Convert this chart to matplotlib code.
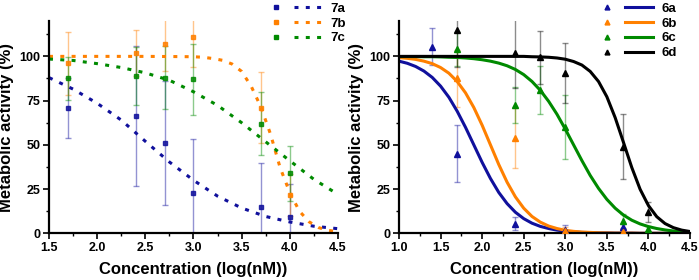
import matplotlib
matplotlib.use('Agg')
from matplotlib import pyplot as plt
from matplotlib.lines import Line2D
from matplotlib.legend_handler import HandlerTuple
from matplotlib.ticker import MultipleLocator

plt.rcParams['font.family'] = ['Liberation Sans', 'DejaVu Sans']
plt.rcParams['font.weight'] = 'bold'
plt.rcParams['axes.labelweight'] = 'bold'

# left panel: compounds 7a-7c (measured points)
x7 = [1.7, 2.4, 2.7, 3.0, 3.7, 4.0]
y7a = [71, 66.5, 51, 22.5, 15, 9]
e7a = [17, 39.5, 35, 31, 24.5, 19]
y7b = [96, 102, 107, 111, 71, 21.5]
e7b = [18, 13, 15, 17, 20, 12]
y7c = [87.5, 89, 88, 87, 62, 34]
e7c = [12, 16.5, 18, 20, 18, 15.5]

# left panel fitted curves
fit7_x = [1.5, 1.75, 2.0, 2.25, 2.5, 2.75, 3.0, 3.25, 3.5, 3.75, 4.0, 4.25, 4.5]
fit7a = [88, 81.5, 73.5, 64, 52, 40.3, 30, 21, 14.3, 9.5, 6.4, 4, 2.6]
fit7c = [98.5, 97.7, 95.9, 93.7, 90.7, 86.5, 80, 72.3, 62.5, 51.7, 41, 30.5, 22]
fit7b_x = [1.5, 2.0, 2.5, 2.8, 3.0, 3.1, 3.2, 3.3, 3.4, 3.5, 3.6, 3.7,
           3.8, 3.9, 4.0, 4.1, 4.2, 4.3, 4.4, 4.5]
fit7b = [100, 100, 100, 99.9, 99.8, 99.5, 98.8, 97.8, 95.7, 91.5, 83, 71.4,
         56, 37, 23, 12.5, 6.5, 3.2, 1.7, 0.8]

# right panel: compounds 6a-6d (measured points)
x6a = [1.4, 1.7, 2.4, 3.0, 3.7]
y6a = [105.5, 45, 5.5, 2, 3.5]
e6a = [10.5, 16, 3.7, 2.8, 2]
x6b = [1.7, 2.4, 3.0, 3.7]
y6b = [87.5, 54, 1.5, 1]
e6b = [16, 17, 2, 1.5]
x6c = [1.7, 2.4, 2.7, 3.0, 3.7, 4.0]
y6c = [104, 72.5, 81, 60, 7, 2.5]
e6c = [9.5, 10, 13.5, 18, 4, 1.5]
x6d = [1.7, 2.4, 2.7, 3.0, 3.7, 4.0]
y6d = [115, 102, 99.5, 90.5, 49, 12]
e6d = [21, 20, 15, 17, 18.5, 5.5]

# right panel fitted curves
fit6_x = [1.0, 1.1, 1.2, 1.3, 1.4, 1.5, 1.6, 1.7, 1.8, 1.9, 2.0, 2.1, 2.2,
          2.3, 2.4, 2.5, 2.6, 2.7, 2.8, 2.9, 3.0, 3.1, 3.2, 3.3, 3.4, 3.5,
          3.6, 3.7, 3.8, 3.9, 4.0, 4.1, 4.2, 4.3, 4.4, 4.5]
fit6a = [97.3, 96.1, 94.3, 91.7, 88.1, 83.2, 76.9, 69.0, 59.9, 50.0, 40.1,
         31.0, 23.1, 16.8, 11.9, 8.3, 5.7, 3.9, 2.7, 1.8, 1.2, 0.8, 0.5, 0.4,
         0.2, 0.2, 0.1, 0.1, 0.1, 0, 0, 0, 0, 0, 0, 0]
fit6b = [99.3, 98.9, 98.3, 97.3, 95.9, 93.7, 90.5, 85.8, 79.4, 71.1, 61.1,
         50.0, 38.9, 28.9, 20.6, 14.2, 9.5, 6.3, 4.1, 2.7, 1.7, 1.1, 0.7, 0.5,
         0.3, 0.2, 0.1, 0.1, 0.1, 0, 0, 0, 0, 0, 0, 0]
fit6c = [99.9, 99.9, 99.9, 99.8, 99.8, 99.7, 99.5, 99.4, 99.1, 98.7, 98.1,
         97.3, 96.2, 94.7, 92.6, 89.7, 85.8, 80.8, 74.6, 67.3, 58.9, 50.0,
         41.1, 32.7, 25.4, 19.2, 14.2, 10.3, 7.4, 5.3, 3.8, 2.7, 1.9, 1.3,
         0.9, 0.6]
fit6d = [100, 100, 100, 100, 100, 100, 100, 100, 100, 100, 100, 100, 100,
         100, 100, 100, 99.8, 99.7, 99.5, 99.1, 98.4, 97.1, 95.1, 91.5, 85.8,
         77.2, 65.4, 51.4, 37.2, 24.9, 15.7, 9.4, 5.5, 3.2, 1.8, 1.0]

blue = '#10109c'
orange = '#ff8000'
green = '#008a00'
black = '#000000'
dots = (0, (1.3, 2.4))

fig = plt.figure(figsize=(6.99, 2.8), dpi=100)
ax1 = fig.add_axes([0.0701, 0.1668, 0.4134, 0.7582])
ax2 = fig.add_axes([0.5708, 0.1668, 0.4163, 0.7582])


def style_axes(ax, xmin):
    ax.set_xlim(xmin, 4.5)
    ax.set_ylim(0, 120)
    ax.xaxis.set_major_locator(MultipleLocator(0.5))
    ax.xaxis.set_minor_locator(MultipleLocator(0.25))
    ax.yaxis.set_major_locator(MultipleLocator(25))
    ax.yaxis.set_minor_locator(MultipleLocator(12.5))
    ax.xaxis.set_major_formatter(plt.FormatStrFormatter('%.1f'))
    for s in ['top', 'right']:
        ax.spines[s].set_visible(False)
    for s in ['left', 'bottom']:
        ax.spines[s].set_linewidth(1.6)
    ax.tick_params(which='major', direction='out', length=4, width=1.2,
                   labelsize=9, pad=2)
    ax.tick_params(which='minor', direction='out', length=2.5, width=1.0)
    for lab in ax.get_xticklabels() + ax.get_yticklabels():
        lab.set_fontweight('bold')
    ax.set_xlabel('Concentration (log(nM))', fontsize=12, fontweight='bold',
                  labelpad=6)
    ax.set_ylabel('Metabolic activity (%)', fontsize=12, fontweight='bold',
                  labelpad=4)


def legend_handles(colors, marker, ls):
    hs = []
    for c in colors:
        hs.append((Line2D([], [], ls='none', marker=marker, color=c, ms=3.5),
                   Line2D([], [], ls=ls, color=c, lw=2.2)))
    return hs


def add_legend(ax, handles, labels, right):
    leg = ax.legend(handles, labels,
                    handler_map={tuple: HandlerTuple(ndivide=None, pad=0.3)},
                    handlelength=4.6, frameon=False,
                    prop={'size': 9.5, 'weight': 'bold'}, labelspacing=0.2,
                    loc='upper right', bbox_to_anchor=(right, 0.996),
                    bbox_transform=fig.transFigure, borderaxespad=0,
                    borderpad=0.1, handletextpad=0.6)
    return leg


# left panel
for y, e, c in [(y7a, e7a, blue), (y7b, e7b, orange), (y7c, e7c, green)]:
    ax1.errorbar(x7, y, yerr=e, fmt='none', ecolor=c, alpha=0.45,
                 elinewidth=1, capsize=2.5, capthick=1, zorder=1)
ax1.plot(fit7_x, fit7a, ls=dots, color=blue, lw=2.2, zorder=2)
ax1.plot(fit7b_x, fit7b, ls=dots, color=orange, lw=2.2, zorder=2)
ax1.plot(fit7_x, fit7c, ls=dots, color=green, lw=2.2, zorder=2)
for y, c in [(y7a, blue), (y7b, orange), (y7c, green)]:
    ax1.plot(x7, y, 's', color=c, ms=3.5, alpha=0.85, zorder=3)
style_axes(ax1, 1.5)
add_legend(ax1, legend_handles([blue, orange, green], 's', dots),
           ['7a', '7b', '7c'], 0.497)

# right panel
for x, y, e, c in [(x6a, y6a, e6a, blue), (x6b, y6b, e6b, orange),
                   (x6c, y6c, e6c, green), (x6d, y6d, e6d, black)]:
    ax2.errorbar(x, y, yerr=e, fmt='none', ecolor=c, alpha=0.45,
                 elinewidth=1, capsize=2.5, capthick=1, zorder=1)
for f, c in [(fit6a, blue), (fit6b, orange), (fit6c, green), (fit6d, black)]:
    ax2.plot(fit6_x, f, '-', color=c, lw=2.2, zorder=2)
for x, y, c in [(x6a, y6a, blue), (x6b, y6b, orange),
                (x6c, y6c, green), (x6d, y6d, black)]:
    ax2.plot(x, y, '^', color=c, ms=4.5, zorder=3)
style_axes(ax2, 1.0)
add_legend(ax2, legend_handles([blue, orange, green, black], '^', '-'),
           ['6a', '6b', '6c', '6d'], 0.97)

plt.savefig('out.png', dpi=100)
